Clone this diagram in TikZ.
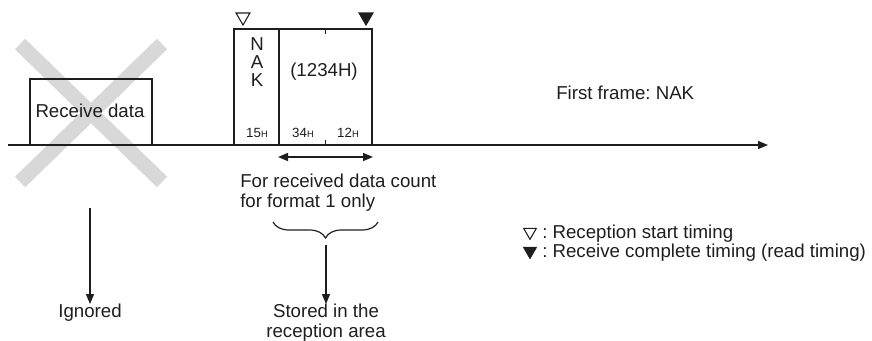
\documentclass[tikz,border=0pt]{standalone}
\usepackage{fontspec}
\setmainfont{Liberation Sans}
\frenchspacing
\usetikzlibrary{arrows.meta,shapes.geometric,decorations.pathreplacing}
\definecolor{xgray}{RGB}{216,216,216}
\definecolor{ink}{RGB}{30,30,30}
\begin{document}
\begin{tikzpicture}[x=0.75pt,y=-0.75pt,
  txt/.style={inner sep=0pt, font=\fontsize{14}{15}\selectfont, text=ink},
  small/.style={inner sep=0pt, font=\fontsize{10}{11}\selectfont, text=ink},
  frame/.style={draw=ink, line width=1pt, rectangle, inner sep=0pt},
  arr/.style={draw=ink, line width=1pt, -{Triangle[length=7.5pt,width=6pt]}},
  darr/.style={draw=ink, line width=1pt, {Triangle[length=7.5pt,width=6pt]}-{Triangle[length=7.5pt,width=6pt]}},
  tri/.style={regular polygon, regular polygon sides=3, shape border rotate=180, draw=ink, line width=0.8pt, minimum size=12pt, inner sep=0pt},
  cross/.style={draw=xgray, line width=11pt}
]
\useasboundingbox (0,0) rectangle (872,340);
% gray cross
\coordinate (x1) at (20,44);
\coordinate (x2) at (162,182);
\coordinate (x3) at (162,44);
\coordinate (x4) at (20,182);
\draw[cross] (x1) -- (x2);
\draw[cross] (x3) -- (x4);
% time line
\coordinate (L) at (8,145);
\coordinate (R) at (768,145);
\draw[arr] (L) -- (R);
% receive data box
\node[frame, minimum width=91.5pt, minimum height=49.5pt] (rd) at (91,112) {};
\node[txt] (rdt) at (90,111) {Receive data};
% NAK box
\node[frame, minimum width=33.75pt, minimum height=87pt] (nak) at (256.5,87) {};
\node[frame, minimum width=69.75pt, minimum height=87pt] (dat) at (325.5,87) {};
\node[txt, align=center, font=\fontsize{14}{13.5}\selectfont] (nakt) at (257,62) {N\\A\\K};
\node[txt] (dt) at (324,72) {(1234H)};
\draw[ink, line width=1pt] (dat.north) -- ++(0,6);
\draw[ink, line width=1pt] (dat.south) -- ++(0,-6);
\node[small] (b15) at (257,133) {15{\fontsize{7}{8}\selectfont H}};
\node[small] (b34) at (303,133) {34{\fontsize{7}{8}\selectfont H}};
\node[small] (b12) at (348,133) {12{\fontsize{7}{8}\selectfont H}};
% timing triangles
\node[tri] (ts) at (243,17) {};
\node[tri, fill=ink] (te) at (366,17) {};
% count arrow
\coordinate (c1) at (278,157);
\coordinate (c2) at (373,157);
\draw[darr] (c1) -- (c2);
\node[txt, anchor=west, align=left] (cnt) at (240,193) {For received data count\\for format 1 only};
% brace
\coordinate (bl) at (273,222);
\coordinate (br) at (378,222);
\draw[ink, line width=0.9pt, decorate, decoration={brace, amplitude=12pt, mirror}] (bl) -- (br);
\coordinate (bt) at (326,245);
\node[txt, align=center] (st) at (326,323) {Stored in the\\reception area};
\draw[arr] (bt) -- (st.north);
% ignored
\coordinate (it) at (90,208);
\node[txt] (ig) at (90,313) {Ignored};
\draw[arr] (it) -- (ig.north);
% first frame
\node[txt, anchor=west] (ff) at (556,93) {First frame: NAK};
% legend
\node[tri, minimum size=11pt] (l1) at (530,232) {};
\node[tri, minimum size=11pt, fill=ink] (l2) at (530,251) {};
\node[txt, anchor=west] (l1t) at (542,234) {: Reception start timing};
\node[txt, anchor=west] (l2t) at (542,253) {: Receive complete timing (read timing)};
\end{tikzpicture}
\end{document}
